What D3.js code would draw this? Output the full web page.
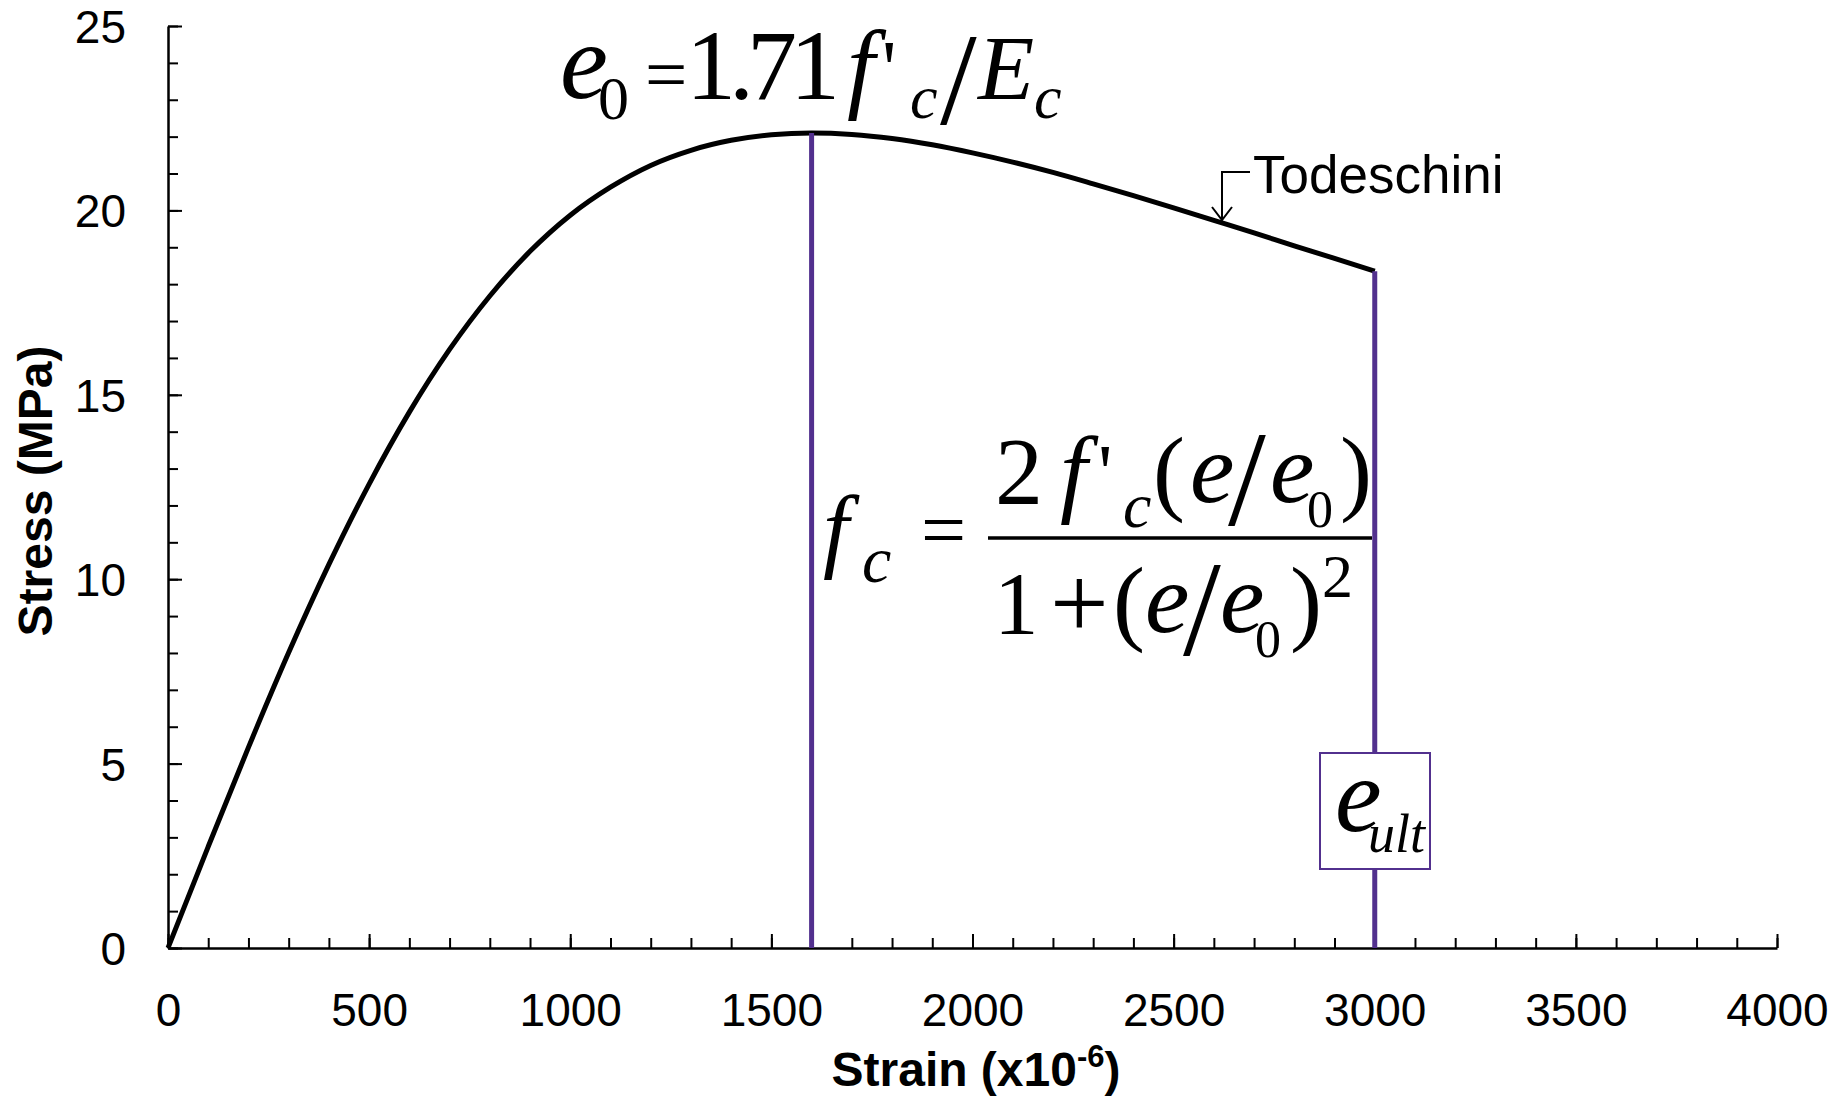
<!DOCTYPE html>
<html>
<head>
<meta charset="utf-8">
<script src="https://cdn.jsdelivr.net/npm/d3@7"></script>
<style>
  html, body { margin: 0; padding: 0; background: #fff; }
  svg { display: block; }
</style>
</head>
<body>
<svg id="chart" width="1845" height="1097"></svg>
<script>
// Todeschini stress–strain curve for concrete in compression
const strain = [0, 100, 200, 300, 400, 500, 600, 700, 800, 900, 1000,
                1100, 1200, 1300, 1400, 1500, 1600, 1700, 1800, 1900, 2000,
                2100, 2200, 2300, 2400, 2500, 2600, 2700, 2800, 2900, 3000];
const stress = [0, 2.75, 5.44, 8.01, 10.40, 12.58, 14.53, 16.23, 17.68, 18.89, 19.87,
                20.63, 21.22, 21.63, 21.90, 22.05, 22.10, 22.06, 21.95, 21.78, 21.56,
                21.31, 21.03, 20.72, 20.40, 20.07, 19.73, 19.39, 19.04, 18.70, 18.35];
const strainPeak = 1600;   // e0
const strainUlt = 3000;    // e_ult
const xTicks = [0, 500, 1000, 1500, 2000, 2500, 3000, 3500, 4000];
const yTicks = [0, 5, 10, 15, 20, 25];
const xTitle = "Strain (x10";
const xTitleSup = "-6";
const yTitle = "Stress (MPa)";
const curveLabel = "Todeschini";

const svg = d3.select("#chart");
const purple = "#52308e";
const sans = "'Liberation Sans', Arial, sans-serif";
const serif = "'Liberation Serif', 'Times New Roman', serif";

const x = d3.scaleLinear().domain([0, 4000]).range([168, 1777]);
const y = d3.scaleLinear().domain([0, 25]).range([948, 26]);

// minor ticks
svg.append("g")
  .attr("transform", `translate(0,${y(0)})`)
  .call(d3.axisBottom(x).tickValues(d3.range(0, 4001, 100)).tickSize(-10).tickFormat(""))
  .call(g => g.select(".domain").remove())
  .call(g => g.selectAll("line").attr("stroke", "#000").attr("stroke-width", 2));
svg.append("g")
  .attr("transform", `translate(${x(0)},0)`)
  .call(d3.axisLeft(y).tickValues(d3.range(0, 25.01, 1)).tickSize(-10).tickFormat(""))
  .call(g => g.select(".domain").remove())
  .call(g => g.selectAll("line").attr("stroke", "#000").attr("stroke-width", 2));

// major ticks + labels
const xAxis = svg.append("g")
  .attr("transform", `translate(0,${y(0)})`)
  .call(d3.axisBottom(x).tickValues(xTicks).tickSize(-14).tickSizeOuter(0).tickPadding(0).tickFormat(d3.format("d")));
xAxis.select(".domain").attr("stroke", "#000").attr("stroke-width", 2.5);
xAxis.selectAll("line").attr("stroke", "#000").attr("stroke-width", 2);
xAxis.selectAll("text")
  .attr("y", 78).attr("dy", null)
  .attr("font-family", sans).attr("font-size", 46).attr("fill", "#000");

const yAxis = svg.append("g")
  .attr("transform", `translate(${x(0)},0)`)
  .call(d3.axisLeft(y).tickValues(yTicks).tickSize(-14).tickSizeOuter(0).tickPadding(0).tickFormat(d3.format("d")));
yAxis.select(".domain").attr("stroke", "#000").attr("stroke-width", 2.5);
yAxis.selectAll("line").attr("stroke", "#000").attr("stroke-width", 2);
yAxis.selectAll("text")
  .attr("x", -42).attr("dy", "0.36em")
  .attr("font-family", sans).attr("font-size", 46).attr("fill", "#000");

// axis titles
const xt = svg.append("text")
  .attr("x", 976).attr("y", 1086)
  .attr("text-anchor", "middle")
  .attr("font-family", sans).attr("font-weight", "bold").attr("font-size", 48);
xt.append("tspan").text(xTitle);
xt.append("tspan").attr("dy", -19).attr("font-size", 31).text(xTitleSup);
xt.append("tspan").attr("dy", 19).text(")");

svg.append("text")
  .attr("transform", `translate(52,${(y(0) + y(25)) / 2 + 4}) rotate(-90)`)
  .attr("text-anchor", "middle")
  .attr("font-family", sans).attr("font-weight", "bold").attr("font-size", 48)
  .text(yTitle);

// curve
const pts = strain.map((s, i) => [s, stress[i]]);
const line = d3.line().x(d => x(d[0])).y(d => y(d[1])).curve(d3.curveMonotoneX);
svg.append("path")
  .datum(pts)
  .attr("d", line)
  .attr("fill", "none").attr("stroke", "#000").attr("stroke-width", 5);

// vertical markers at e0 and e_ult
const stressAt = s => stress[strain.indexOf(s)];
[strainPeak, strainUlt].forEach(s => {
  svg.append("line")
    .attr("x1", x(s)).attr("x2", x(s))
    .attr("y1", y(0)).attr("y2", y(stressAt(s)))
    .attr("stroke", purple).attr("stroke-width", 5);
});

// typeset helper for equation pieces
function piece(g, t, px, py, size, italic, extra) {
  const el = g.append("text")
    .attr("x", px).attr("y", py)
    .attr("font-family", serif).attr("font-size", size)
    .attr("font-style", italic ? "italic" : "normal")
    .attr("fill", "#000")
    .text(t);
  if (extra) Object.entries(extra).forEach(([k, v]) => el.attr(k, v));
  return el;
}

// e0 = 1.71 f'c / Ec
const eq1 = svg.append("g");
piece(eq1, "e", 560, 98, 108, true);
piece(eq1, "0", 598, 119, 62, false);
piece(eq1, "=", 645, 99, 75, false);
piece(eq1, "1.71", 686, 99, 100, false, {"letter-spacing": -7});
piece(eq1, "f", 847, 100, 100, true);
piece(eq1, "'", 882, 96, 80, false);
piece(eq1, "c", 910, 118, 62, true);
piece(eq1, "/", 940, 124, 132, false);
piece(eq1, "E", 978, 99, 92, true);
piece(eq1, "c", 1034, 118, 62, true);

// fc = 2 f'c (e/e0) / (1 + (e/e0)^2)
const eq2 = svg.append("g");
piece(eq2, "f", 823, 560, 93, true);
piece(eq2, "c", 862, 582, 66, true);
piece(eq2, "=", 921, 557, 80, false);
eq2.append("line")
  .attr("x1", 988).attr("x2", 1372).attr("y1", 538).attr("y2", 538)
  .attr("stroke", "#000").attr("stroke-width", 3.5);
piece(eq2, "2", 995, 504, 96, false);
piece(eq2, "f", 1060, 504, 98, true);
piece(eq2, "'", 1098, 500, 80, false);
piece(eq2, "c", 1123, 527, 64, true);
piece(eq2, "(", 1153, 503, 96, false);
piece(eq2, "e", 1190, 502, 100, true);
piece(eq2, "/", 1228, 525, 136, false);
piece(eq2, "e", 1270, 502, 100, true);
piece(eq2, "0", 1307, 527, 52, false);
piece(eq2, ")", 1340, 503, 96, false);
piece(eq2, "1", 994, 633, 89, false);
piece(eq2, "+", 1050, 638, 104, false);
piece(eq2, "(", 1113, 633, 96, false);
piece(eq2, "e", 1145, 632, 100, true);
piece(eq2, "/", 1183, 655, 136, false);
piece(eq2, "e", 1220, 632, 100, true);
piece(eq2, "0", 1255, 657, 52, false);
piece(eq2, ")", 1290, 633, 96, false);
piece(eq2, "2", 1322, 597, 62, false);

// e_ult tag box
const box = svg.append("g");
box.append("rect")
  .attr("x", 1320).attr("y", 753).attr("width", 110).attr("height", 116)
  .attr("fill", "#fff").attr("stroke", purple).attr("stroke-width", 2);
piece(box, "e", 1335, 831, 105, true);
piece(box, "ult", 1368, 852, 54, true);

// curve label with leader arrow
svg.append("text")
  .attr("x", 1253).attr("y", 193)
  .attr("font-family", sans).attr("font-size", 53).attr("fill", "#000")
  .text(curveLabel);
svg.append("path")
  .attr("d", "M1250,172 H1222 V220 M1212,207 L1222,220 L1232,207")
  .attr("fill", "none").attr("stroke", "#000").attr("stroke-width", 2);
</script>
</body>
</html>
